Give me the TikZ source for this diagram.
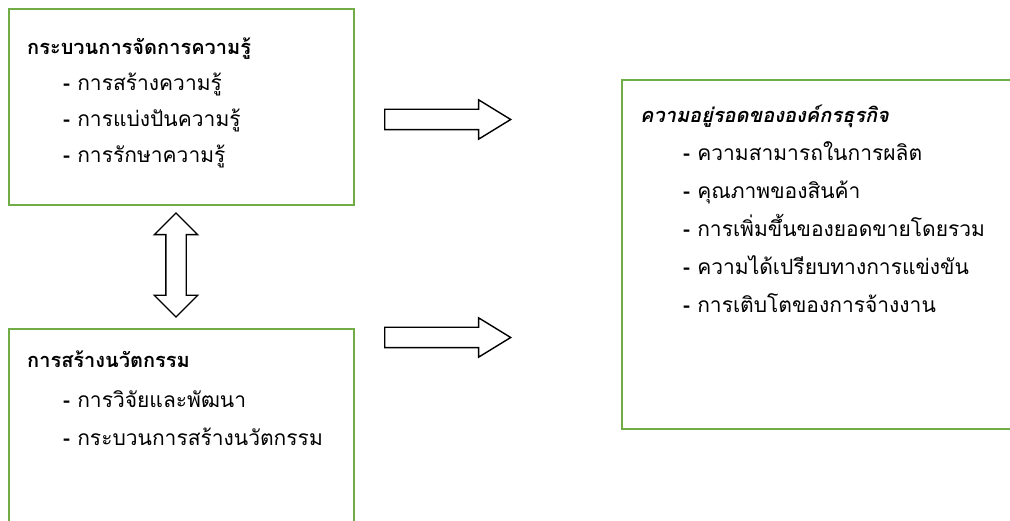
\documentclass[tikz,border=0pt]{standalone}
\usepackage{fontspec}
\newfontfamily\thaifont[Script=Thai]{Loma}
\usetikzlibrary{shapes.arrows}
\definecolor{boxgreen}{RGB}{112,173,71}

\tikzset{
  gbox/.style={draw=boxgreen, line width=2.2pt, anchor=north west, inner sep=0pt},
  ttl/.style={anchor=base west, inner sep=0pt, font=\thaifont\fontsize{20}{25}\selectfont\bfseries},
  itm/.style={anchor=base west, inner sep=0pt, font=\thaifont\fontsize{21}{25}\selectfont},
  rarrow/.style={single arrow, draw, fill=white, line width=1.4pt, inner xsep=0pt, inner ysep=9.5pt,
    anchor=tail, minimum height=126, single arrow head extend=9.5, single arrow tip angle=63},
  varrow/.style={double arrow, draw, fill=white, line width=1.4pt, inner xsep=0pt, inner ysep=9.5pt, rotate=90,
    minimum height=104, double arrow head extend=11.5, double arrow tip angle=90}
}

\begin{document}
\begin{tikzpicture}[x=1pt, y=-1pt]
  \clip (0,0) rectangle (1010,521);
  \fill[white] (0,0) rectangle (1010,521);
  % boxes
  \node[gbox, minimum width=345, minimum height=196] (kmbox) at (8,8) {};
  \node[gbox, minimum width=345, minimum height=250] (innobox) at (8,328) {};
  \node[gbox, minimum width=450, minimum height=349] (survbox) at (621,79) {};
  % knowledge management
  \node[ttl] (kmT) at (27,55) {กระบวนการจัดการความรู้};
  \node[itm] (kmA) at (63,91) {{\bfseries -} การสร้างความรู้};
  \node[itm] (kmB) at (63,127) {{\bfseries -} การแบ่งปันความรู้};
  \node[itm] (kmC) at (63,163) {{\bfseries -} การรักษาความรู้};
  % innovation
  \node[ttl] (innoT) at (27,368) {การสร้างนวัตกรรม};
  \node[itm] (innoA) at (63,407) {{\bfseries -} การวิจัยและพัฒนา};
  \node[itm] (innoB) at (63,445) {{\bfseries -} กระบวนการสร้างนวัตกรรม};
  % survival
  \node[ttl, font=\thaifont\fontsize{20}{25}\selectfont\bfseries\itshape] (survT) at (640,123) {ความอยู่รอดขององค์กรธุรกิจ};
  \node[itm] (survA) at (683,161) {{\bfseries -} ความสามารถในการผลิต};
  \node[itm] (survB) at (683,199) {{\bfseries -} คุณภาพของสินค้า};
  \node[itm] (survC) at (683,237) {{\bfseries -} การเพิ่มขึ้นของยอดขายโดยรวม};
  \node[itm] (survD) at (683,275) {{\bfseries -} ความได้เปรียบทางการแข่งขัน};
  \node[itm] (survE) at (683,313) {{\bfseries -} การเติบโตของการจ้างงาน};
  % arrows
  \node[rarrow] (arrKM) at (384,119.5) {};
  \node[rarrow] (arrInno) at (384,337.5) {};
  \node[varrow] (arrBoth) at (176,265) {};
\end{tikzpicture}
\end{document}
